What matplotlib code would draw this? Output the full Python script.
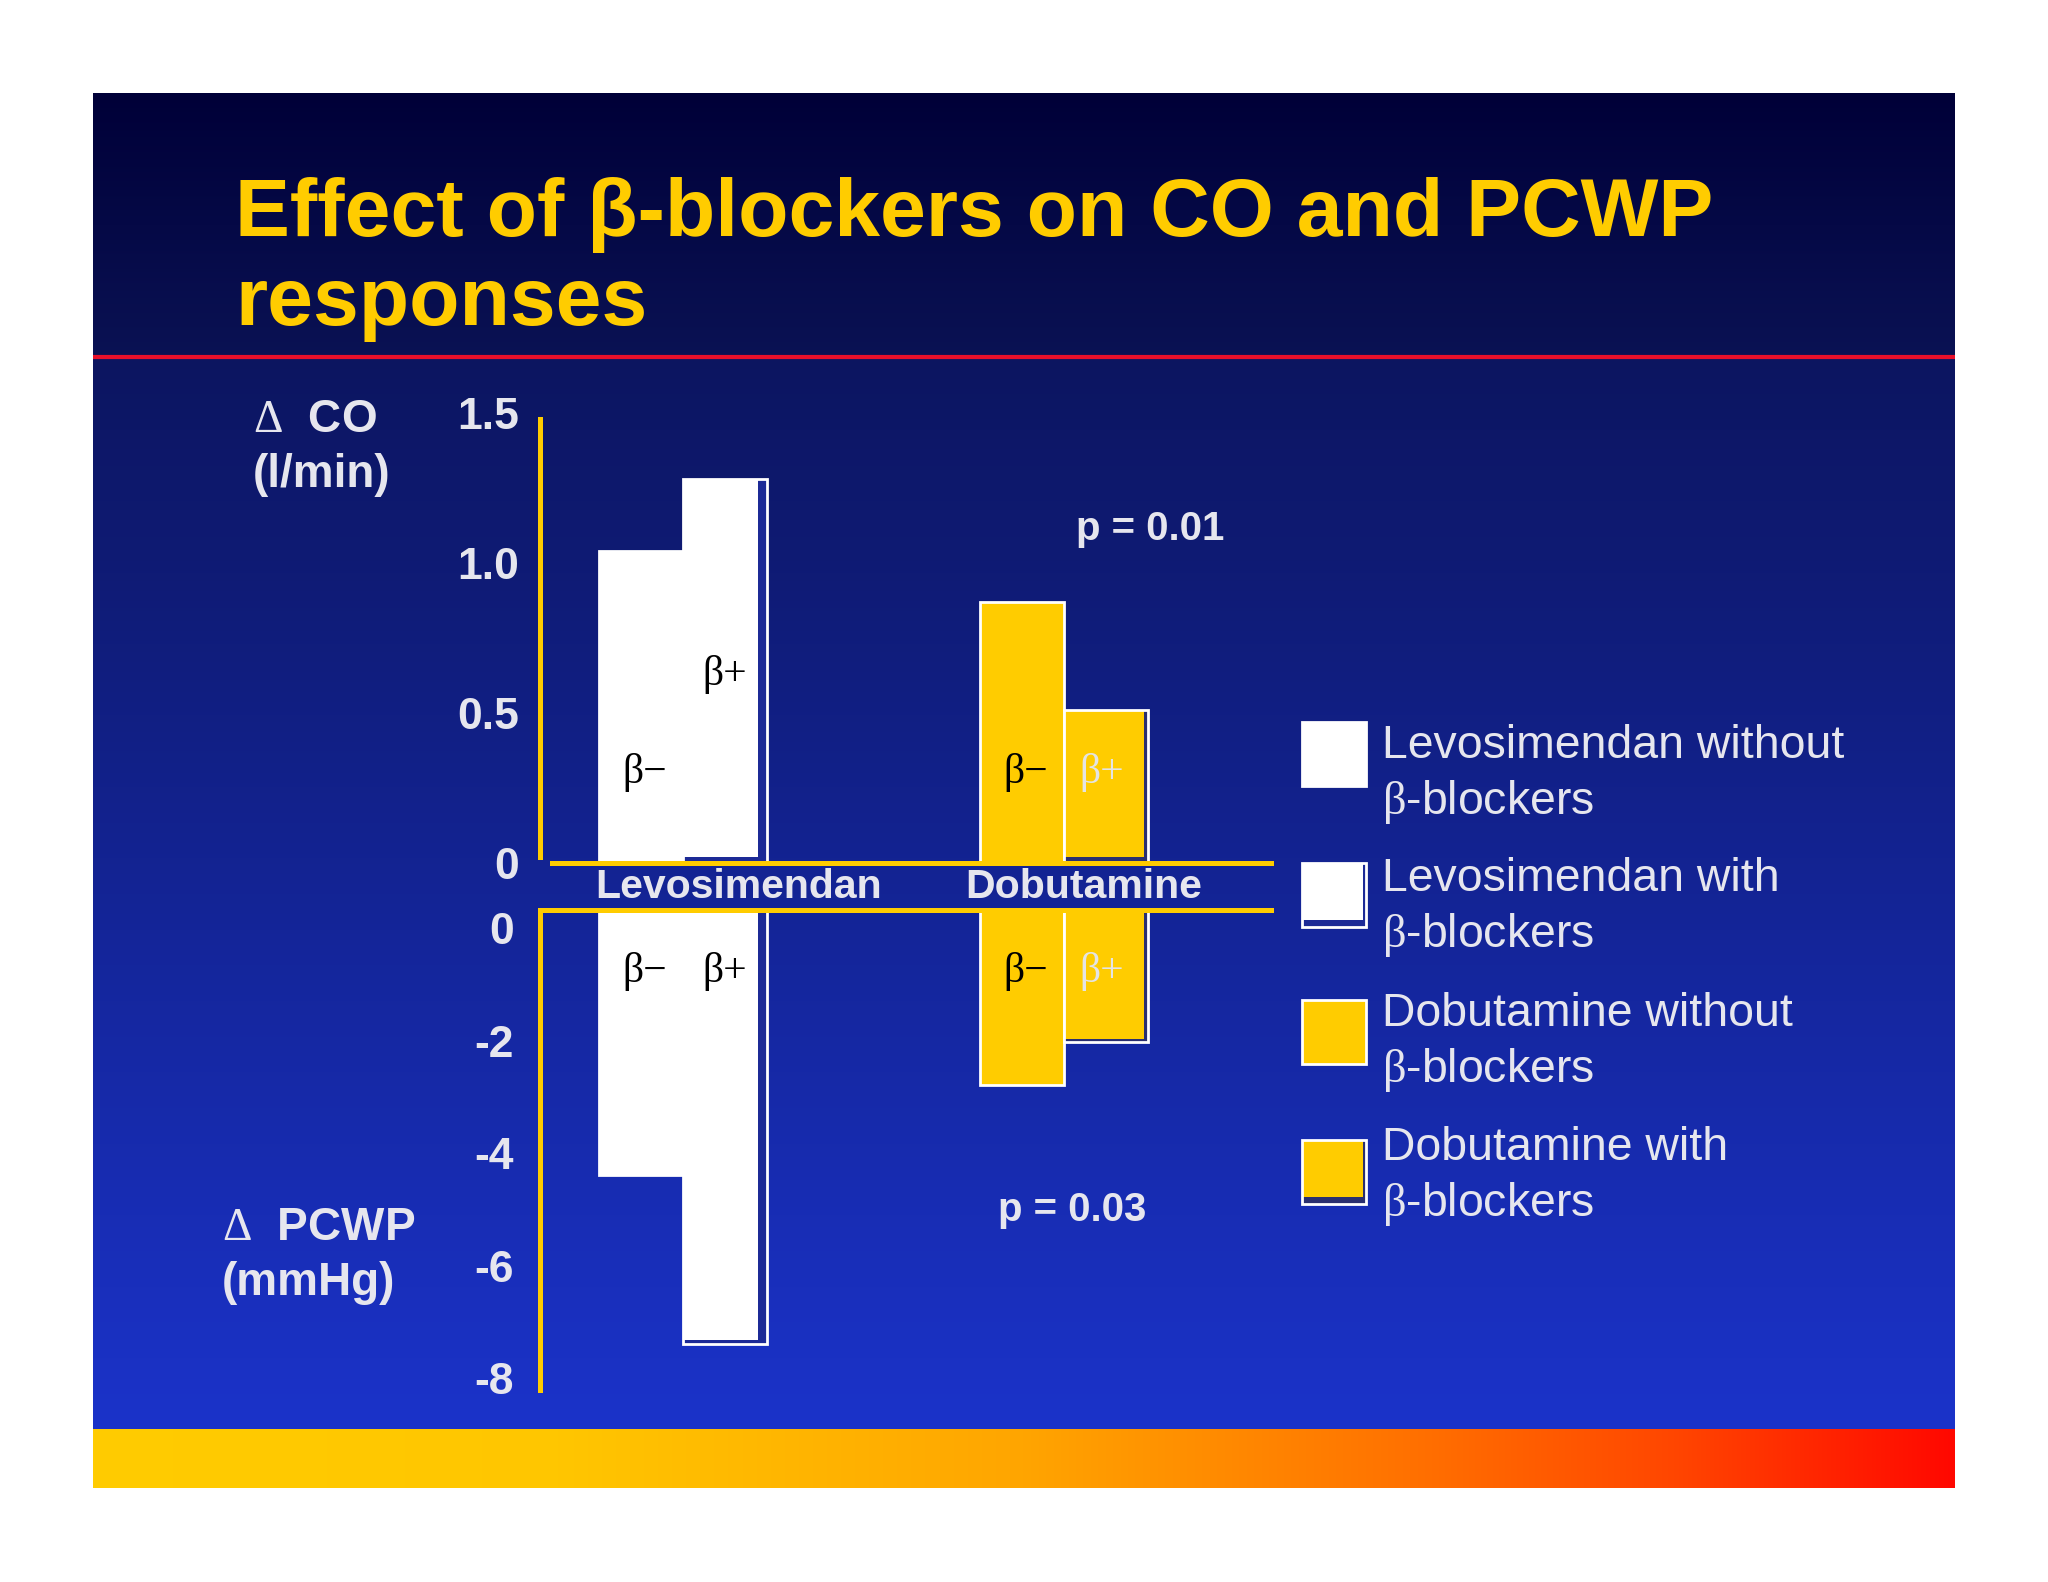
import numpy as np
import matplotlib.pyplot as plt
from matplotlib.patches import Rectangle
from matplotlib.transforms import ScaledTranslation

plt.rcParams['font.family'] = ['Liberation Sans', 'DejaVu Sans']
plt.rcParams['mathtext.fontset'] = 'custom'
plt.rcParams['mathtext.rm'] = 'Liberation Serif'
plt.rcParams['mathtext.it'] = 'Liberation Serif:italic'
plt.rcParams['mathtext.bf'] = 'Liberation Serif:bold'

# data
groups = ['Levosimendan', 'Dobutamine']
co_without = [1.04, 0.87]      # delta CO (l/min), without beta-blockers
co_with = [1.28, 0.51]         # delta CO (l/min), with beta-blockers
pcwp_without = [-4.7, -3.1]    # delta PCWP (mmHg), without beta-blockers
pcwp_with = [-7.7, -2.35]      # delta PCWP (mmHg), with beta-blockers
co_ticks = [0, 0.5, 1.0, 1.5]
co_ticklabels = ['0', '0.5', '1.0', '1.5']
pcwp_ticks = [0, -2, -4, -6, -8]
pcwp_ticklabels = ['0', '-2', '-4', '-6', '-8']
p_values = ['p = 0.01', 'p = 0.03']
legend_labels = [('Levosimendan without', r'$\mathrm{\beta}$-blockers'),
                 ('Levosimendan with', r'$\mathrm{\beta}$-blockers'),
                 ('Dobutamine without', r'$\mathrm{\beta}$-blockers'),
                 ('Dobutamine with', r'$\mathrm{\beta}$-blockers')]

YELLOW = '#FFCC00'
LIGHT = '#E6E6EE'
W, H = 2048, 1582

fig = plt.figure(figsize=(20.48, 15.82), dpi=100)
fig.patch.set_facecolor('white')

# ---- slide background (pixel coordinates) ----
bg = fig.add_axes([0, 0, 1, 1])
bg.axis('off')
ys = np.arange(93, 1429)
col = np.stack([np.interp(ys, [93, 356, 358, 1429], [0, 10, 12, 27]),
                np.interp(ys, [93, 356, 358, 1429], [0, 18, 21, 51]),
                np.interp(ys, [93, 356, 358, 1429], [56, 84, 96, 202])], axis=1) / 255
bg.imshow(col[:, None, :], extent=(93, 1955, 1429, 93), aspect='auto', interpolation='bilinear')
xs = np.linspace(0, 1, 400)
band = np.stack([np.full_like(xs, 255),
                 np.interp(xs, [0, 0.25, 0.5, 0.72, 0.85, 1.0], [204, 198, 165, 110, 70, 8]),
                 np.zeros_like(xs)], axis=1) / 255
bg.imshow(band[None, :, :], extent=(93, 1955, 1488, 1429), aspect='auto', interpolation='bilinear')
bg.plot([93, 1955], [357, 357], color='#E8102A', lw=3, solid_capstyle='butt')
bg.set_xlim(0, W)
bg.set_ylim(H, 0)

# title
bg.text(235, 236, 'Effect of β-blockers on CO and PCWP', color=YELLOW, fontsize=59.3,
        fontweight='bold', va='baseline', ha='left')
bg.text(235, 325, 'responses', color=YELLOW, fontsize=59.3, fontweight='bold',
        va='baseline', ha='left')

# axis titles
bg.text(253, 432, r'$\mathrm{\Delta}$  CO', color=LIGHT, fontsize=33, fontweight='bold', va='baseline')
bg.text(253, 487, '(l/min)', color=LIGHT, fontsize=33, fontweight='bold', va='baseline')
bg.text(222, 1240, r'$\mathrm{\Delta}$  PCWP', color=LIGHT, fontsize=33, fontweight='bold', va='baseline')
bg.text(222, 1295, '(mmHg)', color=LIGHT, fontsize=33, fontweight='bold', va='baseline')

# group labels between the two panels
for name, xc in zip(groups, [739, 1084]):
    bg.text(xc, 898, name, color=LIGHT, fontsize=29.5, fontweight='bold', ha='center', va='baseline')

bg.text(1150, 540, p_values[0], color=LIGHT, fontsize=29, fontweight='bold', ha='center', va='baseline')
bg.text(1072, 1221, p_values[1], color=LIGHT, fontsize=29, fontweight='bold', ha='center', va='baseline')

# legend
sq_tops = [722, 863, 1000, 1140]
base1 = [758, 891, 1026, 1160]
fills = ['white', 'white', YELLOW, YELLOW]
shades = [None, '#1C2A96', None, '#2A2F70']
for i, (l1, l2) in enumerate(legend_labels):
    t = sq_tops[i]
    if shades[i] is None:
        bg.add_patch(Rectangle((1302, t), 64, 64, facecolor=fills[i], edgecolor='white', lw=2))
    else:
        bg.add_patch(Rectangle((1302, t), 64, 64, facecolor=shades[i], edgecolor='none'))
        bg.add_patch(Rectangle((1302, t), 61, 57, facecolor=fills[i], edgecolor='none'))
        bg.add_patch(Rectangle((1302, t), 64, 64, facecolor='none', edgecolor='white', lw=2))
    bg.text(1382, base1[i], l1, color=LIGHT, fontsize=33.4, va='baseline')
    bg.text(1382, base1[i] + 56, l2, color=LIGHT, fontsize=33.4, va='baseline')

# ---- data axes ----
x = np.array([0, 4.54])
xlim = (-1.702, 7.0)

ax1 = fig.add_axes([540 / W, 1 - 863 / H, 731 / W, 450 / H])
ax2 = fig.add_axes([540 / W, 1 - 1390 / H, 731 / W, 480 / H])
for ax in (ax1, ax2):
    ax.patch.set_visible(False)
    ax.set_xlim(*xlim)
    ax.set_xticks([])
    ax.spines['right'].set_visible(False)
    for s in ax.spines.values():
        s.set_color(YELLOW)
        s.set_linewidth(3.6)

ax1.set_ylim(0, 1.5)
ax1.spines['top'].set_visible(False)
ax1.spines['left'].set_bounds(0.02, 1.48)
ax1.spines['bottom'].set_bounds(-1.56, 7.0)
ax1.set_yticks(co_ticks, co_ticklabels)
ax1.tick_params(axis='y', length=0, pad=15, labelsize=32, labelcolor=LIGHT)

ax2.set_ylim(-480 / 56.3, 0)
ax2.spines['bottom'].set_visible(False)
ax2.set_yticks(pcwp_ticks, pcwp_ticklabels)
ax2.tick_params(axis='y', length=0, pad=19, labelsize=32, labelcolor=LIGHT)
off = ScaledTranslation(0, -18 / 100, fig.dpi_scale_trans)
for lab in ax2.get_yticklabels():
    lab.set_transform(lab.get_transform() + off)
for ax in (ax1, ax2):
    for lab in ax.get_yticklabels():
        lab.set_fontweight('bold')

bar_fill = ['white', YELLOW]
bar_shade = ['#1C2A96', '#2A2F70']
stripe_w = [0.11, 0.05]


def plain_bar(ax, xc, v, fill):
    ax.bar(xc, v, 1.0, color=fill, edgecolor='white', lw=2)


def shadow_bar(ax, xc, v, fill, shade, sw, dy):
    ax.bar(xc, v, 1.0, color=shade, edgecolor='none')
    if v > 0:
        ax.bar(xc - 0.5, v - dy, 1.0 - sw, bottom=dy, align='edge', color=fill, lw=0)
    else:
        ax.bar(xc - 0.5, v + dy, 1.0 - sw, align='edge', color=fill, lw=0)
    ax.bar(xc, v, 1.0, color='none', edgecolor='white', lw=2)


for i in range(len(groups)):
    plain_bar(ax1, x[i] - 0.5, co_without[i], bar_fill[i])
    shadow_bar(ax1, x[i] + 0.5, co_with[i], bar_fill[i], bar_shade[i], stripe_w[i], 0.02)
    plain_bar(ax2, x[i] - 0.5, pcwp_without[i], bar_fill[i])
    shadow_bar(ax2, x[i] + 0.5, pcwp_with[i], bar_fill[i], bar_shade[i], stripe_w[i], 0.06)

# beta labels inside the bars
plus_col = ['black', '#E4E4E4']
plus_dx = [0.5, 0.44]
for i in range(len(groups)):
    ax1.text(x[i] - 0.46, 0.3, 'β−', family='Liberation Serif', fontsize=30, ha='center', va='center', color='black')
    ax1.text(x[i] + plus_dx[i], 0.63 if i == 0 else 0.3, 'β+', family='Liberation Serif', fontsize=30,
             ha='center', va='center', color=plus_col[i])
    ax2.text(x[i] - 0.46, -1.1, 'β−', family='Liberation Serif', fontsize=30, ha='center', va='center', color='black')
    ax2.text(x[i] + plus_dx[i], -1.1, 'β+', family='Liberation Serif', fontsize=30, ha='center', va='center',
             color=plus_col[i])

fig.savefig('out.png', dpi=100, facecolor='white')
